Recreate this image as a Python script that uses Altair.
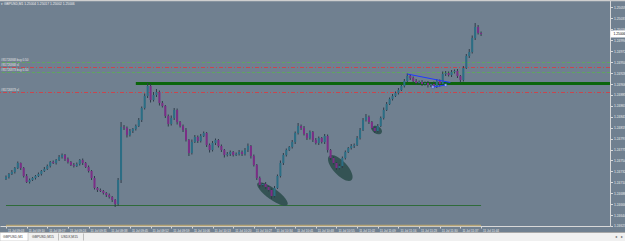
import json
import altair as alt
import pandas as pd

# ---------------- values ----------------
first_open = 1.24716
bar_close = [
    1.24720, 1.24726, 1.24730, 1.24738, 1.24748, 1.24738, 1.24722, 1.24710, 1.24714, 1.24718,
    1.24722, 1.24726, 1.24732, 1.24736, 1.24742, 1.24750, 1.24748, 1.24754, 1.24760, 1.24764,
    1.24756, 1.24750, 1.24744, 1.24742, 1.24746, 1.24754, 1.24748, 1.24740, 1.24732, 1.24718,
    1.24698, 1.24694, 1.24692, 1.24688, 1.24684, 1.24680, 1.24674, 1.24666, 1.24714, 1.24820,
    1.24818, 1.24804, 1.24812, 1.24816, 1.24822, 1.24834, 1.24858, 1.24882, 1.24902, 1.24874,
    1.24884, 1.24890, 1.24868, 1.24862, 1.24842, 1.24826, 1.24838, 1.24854, 1.24830, 1.24822,
    1.24814, 1.24794, 1.24768, 1.24790, 1.24800, 1.24792, 1.24802, 1.24808, 1.24784, 1.24774,
    1.24788, 1.24794, 1.24782, 1.24774, 1.24764, 1.24766, 1.24770, 1.24764, 1.24766, 1.24770,
    1.24766, 1.24774, 1.24782, 1.24762, 1.24744, 1.24718, 1.24704, 1.24706, 1.24700, 1.24694,
    1.24682, 1.24698, 1.24722, 1.24748, 1.24764, 1.24774, 1.24780, 1.24790, 1.24808, 1.24822,
    1.24818, 1.24806, 1.24798, 1.24810, 1.24794, 1.24788, 1.24798, 1.24790, 1.24802, 1.24774,
    1.24758, 1.24748, 1.24738, 1.24742, 1.24758, 1.24770, 1.24778, 1.24782, 1.24784, 1.24798,
    1.24814, 1.24834, 1.24840, 1.24830, 1.24818, 1.24812, 1.24822, 1.24838, 1.24854, 1.24866,
    1.24876, 1.24882, 1.24888, 1.24894, 1.24902, 1.24912, 1.24922, 1.24918, 1.24912, 1.24908,
    1.24910, 1.24906, 1.24908, 1.24904, 1.24906, 1.24902, 1.24912, 1.24906, 1.24926, 1.24928,
    1.24924, 1.24930, 1.24932, 1.24922, 1.24914, 1.24938, 1.24962, 1.24970, 1.24998, 1.25020,
    1.25008, 1.25006,
]
# wick extensions beyond the body, in points (0.00001)
wick_up = [
    3, 2, 4, 2, 3, 1, 2, 4, 3, 2,
    2, 3, 2, 4, 3, 2, 3, 2, 4, 3,
    2, 3, 2, 4, 3, 2, 3, 2, 3, 2,
    4, 2, 3, 2, 2, 3, 2, 2, 4, 10,
    4, 3, 4, 2, 3, 4, 3, 5, 6, 4,
    6, 6, 3, 4, 2, 3, 5, 4, 3, 2,
    3, 4, 2, 5, 4, 3, 4, 3, 2, 3,
    4, 3, 2, 3, 2, 4, 3, 2, 3, 4,
    3, 4, 5, 2, 3, 2, 3, 2, 4, 2,
    3, 4, 3, 5, 4, 3, 2, 4, 3, 6,
    3, 4, 2, 3, 2, 4, 3, 2, 4, 3,
    2, 3, 2, 4, 3, 3, 2, 4, 3, 4,
    4, 4, 6, 3, 2, 3, 4, 3, 5, 4,
    3, 4, 3, 4, 3, 4, 5, 4, 3, 4,
    3, 4, 3, 4, 3, 5, 4, 3, 5, 4,
    3, 4, 3, 4, 2, 4, 4, 6, 5, 8,
    4, 3,
]
wick_down = [
    2, 3, 2, 3, 2, 4, 3, 2, 3, 2,
    3, 2, 3, 2, 2, 3, 2, 3, 2, 3,
    4, 3, 2, 3, 2, 3, 4, 2, 3, 4,
    3, 4, 2, 3, 4, 3, 4, 6, 4, 6,
    4, 5, 3, 4, 3, 2, 4, 3, 4, 5,
    3, 4, 5, 3, 4, 5, 3, 4, 5, 3,
    4, 3, 6, 3, 2, 4, 3, 2, 4, 5,
    3, 4, 3, 4, 5, 3, 4, 3, 2, 3,
    4, 3, 4, 5, 3, 4, 5, 3, 4, 3,
    6, 3, 2, 3, 4, 3, 2, 3, 4, 3,
    4, 3, 4, 3, 4, 3, 4, 3, 4, 5,
    4, 3, 4, 3, 4, 3, 2, 3, 4, 2,
    3, 2, 3, 4, 3, 4, 3, 2, 3, 2,
    2, 3, 2, 3, 2, 3, 2, 4, 3, 4,
    3, 4, 3, 5, 4, 3, 4, 5, 3, 4,
    3, 4, 3, 4, 5, 3, 2, 4, 3, 4,
    3, 4,
]

time_labels = [
    "11 Jul 09:03", "11 Jul 09:10", "11 Jul 09:17", "11 Jul 09:24", "11 Jul 09:31",
    "11 Jul 09:38", "11 Jul 09:45", "11 Jul 09:52", "11 Jul 09:59", "11 Jul 10:06",
    "11 Jul 10:13", "11 Jul 10:20", "11 Jul 10:27", "11 Jul 10:34", "11 Jul 10:41",
    "11 Jul 10:48", "11 Jul 10:55", "11 Jul 11:02", "11 Jul 11:09", "11 Jul 11:16",
    "11 Jul 11:23", "11 Jul 11:30", "11 Jul 11:37", "11 Jul 11:44",
]
bars_per_label = 7
price_ticks = [
    1.25059, 1.25037, 1.25016, 1.24994, 1.24972, 1.24950, 1.24928, 1.24906, 1.24885,
    1.24863, 1.24841, 1.24819, 1.24797, 1.24775, 1.24754, 1.24732, 1.24710, 1.24688,
    1.24666, 1.24644, 1.24623,
]
price_min, price_max = 1.24622, 1.25074
bar_min, bar_max = -0.3333, 203.0

title_text = "\u25be GBPUSD,M1  1.25004 1.25017 1.25002 1.25006"

level_names = ["#81726868 buy 0.50", "#81726868 sl", "#81726873 buy 0.50", "#81726873 sl"]
level_prices = [1.24949, 1.24939, 1.24929, 1.24889]
level_kinds = ["buy", "sl", "buy", "sl"]

resistance_price = 1.24907
resistance_from_bar = 44
support_price = 1.24663
base_price = 1.24623
floor_from_bar, floor_to_bar = 0, 161

ellipse_bar = [90.3, 113.3, 125.7]
ellipse_price = [1.24686, 1.24738, 1.24814]

trend_bar = [136.0, 150.6, 144.7, 149.0]
trend_price = [1.24926, 1.24909, 1.24900, 1.24904]
trend_id = ["a", "a", "b", "b"]

tab_names = ["GBPUSD,M1", "GBPUSD,M15", "USDX,M15"]

# ---------------- styles ----------------
BG = "#708090"
UP = "#2B6E85"
DOWN = "#7B2E86"
WICK = "#2E3C4A"
AXIS_C = "#D8D8D8"
LABEL_C = "#EDEDED"
FONT = "Liberation Sans"
W, H = 610, 226

# ---------------- tables ----------------
rows = []
prev = first_open
for i, c in enumerate(bar_close):
    o = prev
    rows.append({
        "bar": i,
        "open": o,
        "close": c,
        "high": max(o, c) + wick_up[i] * 1e-5,
        "low": min(o, c) - wick_down[i] * 1e-5,
        "dir": "up" if c > o else "down",
    })
    prev = c
candles = pd.DataFrame(rows)

xscale = alt.Scale(domain=[bar_min, bar_max], nice=False, zero=False)
yscale = alt.Scale(domain=[price_min, price_max], nice=False, zero=False)

xaxis = alt.Axis(
    values=[k * bars_per_label for k in range(len(time_labels))],
    labelExpr=json.dumps(time_labels) + "[round(datum.value / %d)]" % bars_per_label,
    title=None, grid=False, orient="bottom",
    labelAlign="left", labelBaseline="top", labelFontSize=3, labelFont=FONT,
    labelColor=LABEL_C, labelPadding=1, labelOffset=1.5, labelFlush=False,
    labelOverlap=False, labelBound=False,
    tickSize=2, tickColor=AXIS_C, domainColor=AXIS_C, domainWidth=1,
)
yaxis = alt.Axis(
    values=price_ticks, format=".5f", title=None, grid=False, orient="right",
    labelFontSize=3.3, labelFont=FONT, labelColor=LABEL_C, labelPadding=1,
    labelFlush=False, labelOverlap=False, labelBound=False,
    tickSize=2.5, tickColor=AXIS_C, domainColor=AXIS_C, domainWidth=1,
)


def X(f):
    return alt.X(f, type="quantitative", scale=xscale, axis=xaxis)


def Y(f):
    return alt.Y(f, type="quantitative", scale=yscale, axis=yaxis)


wicks = alt.Chart(candles).mark_rule(strokeWidth=1, color=WICK).encode(
    x=X("bar"), y=Y("low"), y2="high")
bodies_up = alt.Chart(candles).transform_filter("datum.dir == 'up'").mark_bar(
    width=2, color=UP).encode(x=X("bar"), y=Y("open"), y2="close")
bodies_dn = alt.Chart(candles).transform_filter("datum.dir == 'down'").mark_bar(
    width=2, color=DOWN).encode(x=X("bar"), y=Y("open"), y2="close")

levels = pd.DataFrame({"name": level_names, "price": level_prices, "kind": level_kinds})
buy_lines = alt.Chart(levels).transform_filter("datum.kind == 'buy'").mark_rule(
    color="#5FA55F", strokeDash=[3, 2], strokeWidth=1).encode(y=Y("price"))
sl_lines = alt.Chart(levels).transform_filter("datum.kind == 'sl'").mark_rule(
    color="#C8464E", strokeDash=[4, 2, 1, 2], strokeWidth=1).encode(y=Y("price"))
level_text = alt.Chart(levels).mark_text(
    align="left", baseline="bottom", dy=-0.4, fontSize=3, font=FONT, color="#E4E4E4").encode(
    x=alt.value(1), y=Y("price"), text="name:N")

res = pd.DataFrame({"bar": [resistance_from_bar], "price": [resistance_price]})
res_line = alt.Chart(res).mark_rule(strokeWidth=3, color="#0B650B").encode(
    x=X("bar"), x2=alt.value(W), y=Y("price"))

floor_df = pd.DataFrame({"b0": [floor_from_bar], "b1": [floor_to_bar],
                         "sup": [support_price], "base": [base_price]})
support_line = alt.Chart(floor_df).mark_rule(strokeWidth=1.2, color="#2F6B3A").encode(
    x=X("b0"), x2="b1", y=Y("sup"))
base_line = alt.Chart(floor_df).mark_rule(strokeWidth=1.4, color="#B3A274").encode(
    x=X("b0"), x2="b1", y=Y("base"))

ell_shapes = [
    ("M-1,0 C-1,-0.166 -0.552,-0.3 0,-0.3 C0.552,-0.3 1,-0.166 1,0 C1,0.166 0.552,0.3 0,0.3 C-0.552,0.3 -1,0.166 -1,0 Z", 37 ** 2, 36),
    ("M-1,0 C-1,-0.232 -0.552,-0.42 0,-0.42 C0.552,-0.42 1,-0.232 1,0 C1,0.232 0.552,0.42 0,0.42 C-0.552,0.42 -1,0.232 -1,0 Z", 33 ** 2, 47),
    ("M-1,0 C-1,-0.387 -0.552,-0.7 0,-0.7 C0.552,-0.7 1,-0.387 1,0 C1,0.387 0.552,0.7 0,0.7 C-0.552,0.7 -1,0.387 -1,0 Z", 11 ** 2, 30),
]
ellipses = []
for k, (path, size, ang) in enumerate(ell_shapes):
    d = pd.DataFrame({"bar": [ellipse_bar[k]], "price": [ellipse_price[k]]})
    ellipses.append(alt.Chart(d).mark_point(
        shape=path, size=size, angle=ang, filled=True, color="#2F4F4F", opacity=0.92,
        strokeWidth=0).encode(x=X("bar"), y=Y("price")))

trend = pd.DataFrame({"bar": trend_bar, "price": trend_price, "id": trend_id})
trend_lines = alt.Chart(trend).mark_line(color="#1F3BFF", strokeWidth=1).encode(
    x=X("bar"), y=Y("price"), detail="id:N")
trend_pts = alt.Chart(trend).transform_filter("datum.id == 'b'").mark_square(
    size=5, filled=True, color="white", stroke="#1F3BFF", strokeWidth=0.6).encode(
    x=X("bar"), y=Y("price"))

last = pd.DataFrame({"price": [bar_close[-1]], "hi": [bar_close[-1] + 0.00007], "lo": [bar_close[-1] - 0.00007]})
last_box = alt.Chart(last).mark_rect(color="#FFFFFF").encode(
    x=alt.value(W + 0.5), x2=alt.value(W + 15), y=Y("hi"), y2="lo")
last_txt = alt.Chart(last).mark_text(align="left", baseline="middle", fontSize=3.3, font=FONT, color="#000000").encode(
    x=alt.value(W + 3.5), y=Y("price"), text=alt.Text("price:Q", format=".5f"))

top_strip = alt.Chart(pd.DataFrame({"a": [0]})).mark_rect(color="#CFCFCF").encode(
    x=alt.value(0), x2=alt.value(W + 15), y=alt.value(0), y2=alt.value(1.3))
title = alt.Chart(pd.DataFrame({"t": [title_text]})).mark_text(
    align="left", baseline="middle", fontSize=3.3, font=FONT, color="#F0F0F0").encode(
    x=alt.value(1), y=alt.value(4), text="t:N")

tab_bg = alt.Chart(pd.DataFrame({"a": [0]})).mark_rect(color="#F0F0F0").encode(
    x=alt.value(0), x2=alt.value(W + 15), y=alt.value(H + 6.5), y2=alt.value(H + 15))
tab_sep_top = alt.Chart(pd.DataFrame({"a": [0]})).mark_rule(color="#A8A8A8", strokeWidth=1).encode(
    x=alt.value(0), x2=alt.value(W + 15), y=alt.value(H + 6.5))
tab_active = alt.Chart(pd.DataFrame({"a": [0]})).mark_rect(color="#FFFFFF", stroke="#A8A8A8", strokeWidth=0.5).encode(
    x=alt.value(0), x2=alt.value(28), y=alt.value(H + 6.5), y2=alt.value(H + 15))
tab_x = [3, 32, 61]
tab_sep_x = [58.5, 83.5]
tabs = alt.Chart(pd.DataFrame({"name": tab_names, "px": tab_x})).mark_text(
    align="left", baseline="middle", fontSize=3.4, font=FONT, color="#404040").encode(
    x=alt.X("px:Q", scale=None), y=alt.value(H + 11), text="name:N")
tab_seps = alt.Chart(pd.DataFrame({"px": tab_sep_x})).mark_rule(color="#A8A8A8", strokeWidth=0.7).encode(
    x=alt.X("px:Q", scale=None), y=alt.value(H + 7.5), y2=alt.value(H + 14.5))
arrows = alt.Chart(pd.DataFrame({"s": ["\u25c2", "\u25b8"], "px": [W + 6, W + 12]})).mark_text(
    fontSize=4, color="#606060", baseline="middle").encode(
    x=alt.X("px:Q", scale=None), y=alt.value(H + 11), text="s:N")

chart = alt.layer(
    support_line, base_line, buy_lines, sl_lines, res_line, level_text,
    *ellipses, wicks, bodies_up, bodies_dn, trend_lines, trend_pts,
    last_box, last_txt, top_strip, title,
    tab_bg, tab_sep_top, tab_active, tabs, tab_seps, arrows,
).properties(
    width=W, height=H,
    padding={"left": 0, "top": 0, "right": 15, "bottom": 15},
    autosize=alt.AutoSizeParams(type="none"),
    background=BG,
).configure_view(stroke=None)

chart.save("out.html", embed_options={"renderer": "svg", "actions": False})
